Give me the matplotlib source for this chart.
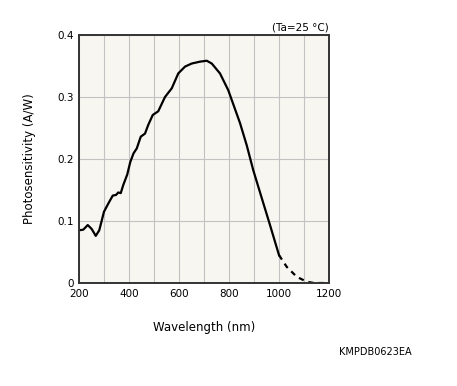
import matplotlib
matplotlib.use("Agg")
import matplotlib.pyplot as plt

# measured part (solid)
wl_solid = [200, 217, 235, 251, 267, 281, 300, 317, 335, 348, 357, 367, 377, 393,
            405, 418, 431, 447, 464, 477, 495, 517, 544, 571, 597, 624, 651, 684,
            711, 731, 764, 797, 844, 871, 897, 931, 964, 1000]
ps_solid = [0.085, 0.086, 0.0935, 0.087, 0.076, 0.085, 0.115, 0.128, 0.141, 0.142,
            0.146, 0.145, 0.158, 0.175, 0.195, 0.209, 0.217, 0.236, 0.241, 0.255,
            0.271, 0.277, 0.300, 0.314, 0.338, 0.349, 0.354, 0.357, 0.3585, 0.354,
            0.338, 0.311, 0.258, 0.222, 0.182, 0.137, 0.0935, 0.045]
# extrapolated tail (dashed)
wl_dash = [1000, 1031, 1071, 1111, 1140, 1190]
ps_dash = [0.045, 0.026, 0.010, 0.002, 0.0, 0.0]

xticks = [200, 400, 600, 800, 1000, 1200]
yticks = [0, 0.1, 0.2, 0.3, 0.4]
yticklabels = ["0", "0.1", "0.2", "0.3", "0.4"]

fig = plt.figure(figsize=(4.57, 3.86), dpi=100)
ax = fig.add_axes([79/457, 103/386, 250/457, 248/386])
ax.set_facecolor("#f7f6f0")

ax.plot(wl_solid, ps_solid, color="black", lw=1.6, solid_joinstyle="round")
ax.plot(wl_dash, ps_dash, color="black", lw=1.6, ls=(0, (2.4, 2.2)))

ax.set_xlim(200, 1200)
ax.set_ylim(0, 0.4)
ax.set_xticks(xticks)
ax.set_xticks(range(200, 1201, 100), minor=True)
ax.set_yticks(yticks)
ax.set_yticklabels(yticklabels)
ax.grid(True, which="both", axis="x", color="#c2c2c2", lw=0.8)
ax.grid(True, which="major", axis="y", color="#c2c2c2", lw=0.8)
ax.tick_params(which="both", length=0, labelsize=7.5, pad=4)
for s in ax.spines.values():
    s.set_color("#333333")
    s.set_linewidth(1.4)

ax.set_xlabel("Wavelength (nm)", fontsize=8.5, labelpad=16)
ax.set_ylabel("Photosensitivity (A/W)", fontsize=8.5, labelpad=15)

fig.text(329/457, 1 - 27/386, "(Ta=25 °C)", ha="right", va="center", fontsize=7.5)
fig.text(412/457, 1 - 352/386, "KMPDB0623EA", ha="right", va="center", fontsize=7)

fig.savefig("out.png", dpi=100)
